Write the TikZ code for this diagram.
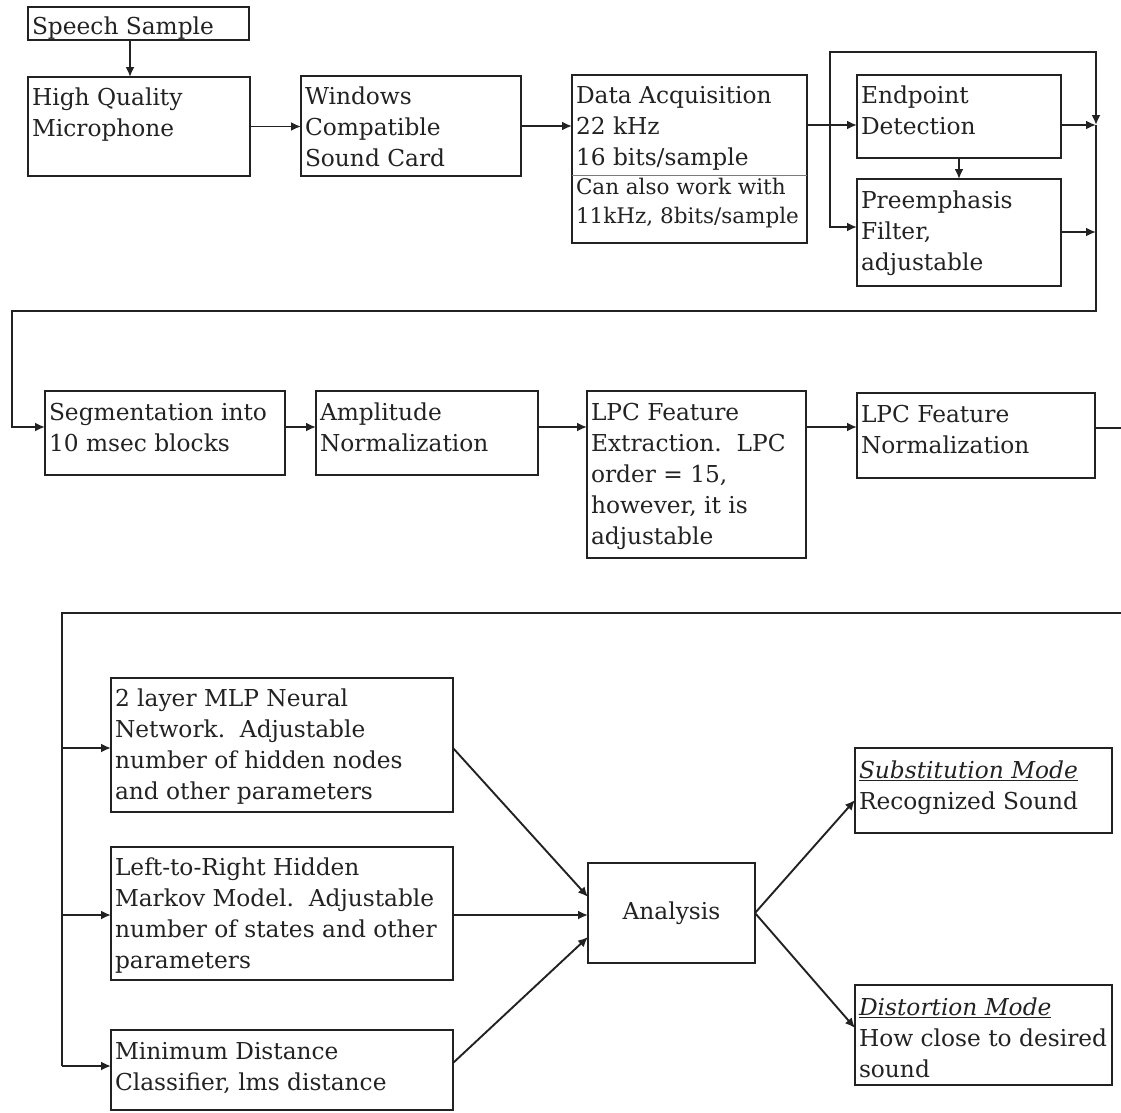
\documentclass[tikz,border=0pt]{standalone}
\usepackage{fontspec}
\setmainfont{DejaVu Serif}
\usetikzlibrary{arrows.meta,calc}
\definecolor{ink}{HTML}{222222}
\tikzset{
  box/.style={draw=ink, line width=2.1pt, inner sep=0pt, outer sep=0pt, anchor=north west},
  txt/.style={inner sep=0pt, outer sep=0pt, align=left, text=ink, font=\fontsize{23.3}{31}\selectfont},
  smalltxt/.style={inner sep=0pt, outer sep=0pt, align=left, text=ink, font=\fontsize{21.5}{29}\selectfont},
  conn/.style={draw=ink, line width=1.9pt},
  arr/.style={conn, -{Latex[length=10pt,width=9pt]}},
}
% name, x1, y1, x2, y2, baseline offset, text
\newcommand\myblock[7]{%
  \node[box, minimum width={#4-#2}, minimum height={#5-#3}] (#1) at (#2,#3) {};
  \node[txt, anchor=north west] (#1-t) at (#2+4,#3+#6-17) {\rule{0pt}{17pt}#7};
}
\begin{document}
\begin{tikzpicture}[x=1pt,y=-1pt]
\path[use as bounding box] (0,0) rectangle (1121,1112);
% --- top row ---
\myblock{speech}{28}{7}{249}{40}{27}{Speech Sample}
\myblock{mic}{28}{77}{250}{176}{28}{High Quality\\Microphone}
\myblock{win}{301}{76}{521}{176}{28}{Windows\\Compatible\\Sound Card}
\myblock{da}{572}{75}{807}{243}{28}{Data Acquisition\\22 kHz\\16 bits/sample}
\draw[draw=ink!60, line width=0.9pt] (da.north west) ++(0,100) coordinate (dl) -- (dl -| da.east);
\node[smalltxt, anchor=north west] (da-s) at (576,178) {\rule{0pt}{16pt}Can also work with\\11kHz, 8bits/sample};
\myblock{ep}{857}{75}{1061}{158}{28}{Endpoint\\Detection}
\myblock{pe}{857}{179}{1061}{286}{29}{Preemphasis\\Filter,\\adjustable}
% --- middle row ---
\myblock{seg}{45}{391}{285}{475}{29}{Segmentation into\\10 msec blocks}
\myblock{amp}{316}{391}{538}{475}{29}{Amplitude\\Normalization}
\myblock{lpce}{587}{391}{806}{558}{29}{LPC Feature\\Extraction.\ \ LPC\\order = 15,\\however, it is\\adjustable}
\myblock{lpcn}{857}{393}{1095}{478}{29}{LPC Feature\\Normalization}
% --- bottom ---
\myblock{mlp}{111}{678}{453}{812}{28}{2 layer MLP Neural\\Network.\ \ Adjustable\\number of hidden nodes\\and other parameters}
\myblock{hmm}{111}{847}{453}{980}{28}{Left-to-Right Hidden\\Markov Model.\ \ Adjustable\\number of states and other\\parameters}
\myblock{mind}{111}{1030}{453}{1110}{29}{Minimum Distance\\Classifier, lms distance}
\node[box, minimum width=167, minimum height=100] (ana) at (588,863) {};
\node[txt, anchor=center] (ana-t) at (ana.center) {Analysis};
\myblock{sub}{855}{748}{1112}{833}{30}{\underline{\textit{Substitution Mode}}\\Recognized Sound}
\myblock{dist}{855}{985}{1112}{1085}{30}{\underline{\textit{Distortion Mode}}\\How close to desired\\sound}
% --- connectors top ---
\draw[arr] (speech.south west) ++(102,0) coordinate (s1) -- (s1 |- mic.north);
\draw[arr] (mic.east) -- (mic.east -| win.west);
\draw[arr] (win.east) -- (win.east -| da.west);
\coordinate (j1) at (830,125);
\coordinate (tr) at (1096,52);
\coordinate (rj) at (1096,125);
\coordinate (br) at (1096,311);
\coordinate (bl) at (12,311);
\draw[conn] (da.east |- j1) -- (j1);
\draw[arr] (j1) -- (j1 -| ep.west);
\draw[arr] (j1) |- (tr) -- (rj);
\draw[arr] (j1) |- ($(pe.north west)+(0,48)$);
\draw[arr] (ep.east |- j1) -- (rj);
\draw[arr] ($(pe.north east)+(0,53)$) coordinate (p1) -- (p1 -| rj);
\draw[arr] (ep.south) -- (pe.north);
\draw[arr] (rj) -- (br) -- (bl) |- (seg.west |- 0,427);
% --- connectors middle ---
\draw[arr] (seg.east |- 0,427) -- (amp.west |- 0,427);
\draw[arr] (amp.east |- 0,427) -- (lpce.west |- 0,427);
\draw[arr] (lpce.east |- 0,427) -- (lpcn.west |- 0,427);
\coordinate (re) at (1121,428);
\draw[conn] (lpcn.east |- re) -- (re);
% --- connectors bottom ---
\coordinate (rs) at (1121,613);
\coordinate (lb) at (62,613);
\draw[conn] (rs) -- (lb) -- (62,1066) coordinate (lbb);
\draw[arr] (lb |- 0,748) -- (mlp.west |- 0,748);
\draw[arr] (lb |- 0,915) -- (hmm.west |- 0,915);
\draw[arr] (lbb) -- (mind.west |- lbb);
\draw[arr] (mlp.east |- 0,748) -- (ana.west |- 0,897);
\draw[arr] (hmm.east |- 0,915) -- (ana.west |- 0,915);
\draw[arr] (mind.east |- 0,1063) -- (ana.west |- 0,937);
\draw[arr] (ana.east) -- (sub.west |- 0,800);
\draw[arr] (ana.east) -- (dist.west |- 0,1028);
\end{tikzpicture}
\end{document}
